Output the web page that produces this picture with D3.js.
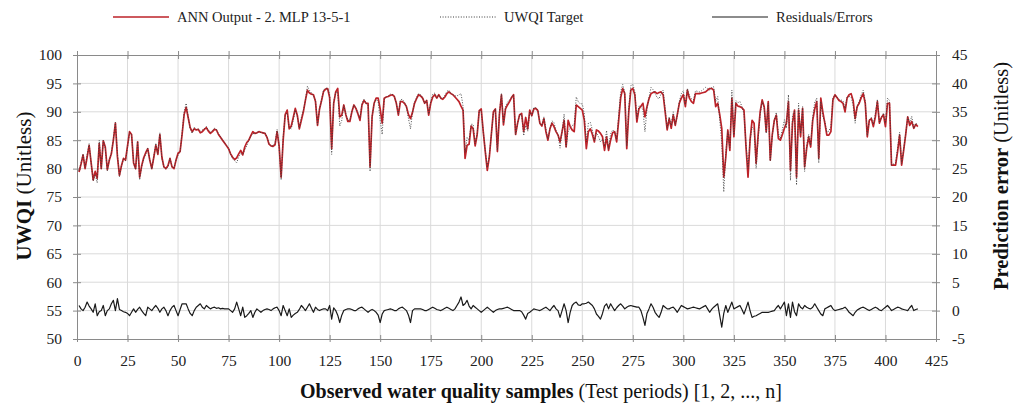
<!DOCTYPE html>
<html>
<head>
<meta charset="utf-8">
<script src="https://cdn.jsdelivr.net/npm/d3@7"></script>
<style>
    body { margin: 0; background: #fff; }
    svg { display: block; font-family: "Liberation Serif", serif; }
    .grid line { stroke: #dadada; stroke-width: 1; }
    .axis path, .axis line { stroke: #8a8a8a; stroke-width: 1; }
    .axis text { fill: #222; font-size: 15.5px; font-family: "Liberation Serif", serif; }
</style>
</head>
<body>
<div id="chart"></div>
<script>
// ANN output (red), UWQI target (dotted), residuals (right axis), sample 1..416
const annOutput = [
    79.4,80.8,82.4,80.0,82.0,84.1,81.0,78.0,79.5,78.3,
    84.4,80.0,84.9,83.8,79.8,81.5,82.6,85.0,88.0,82.1,
    78.8,80.5,81.8,81.5,84.0,86.5,86.0,81.0,80.0,84.7,
    78.5,80.5,81.9,82.8,83.5,81.5,80.0,82.0,84.1,82.5,
    86.0,82.0,80.3,80.0,80.5,81.8,80.3,80.0,81.5,82.7,
    83.0,86.0,89.5,90.8,89.0,87.2,86.5,87.0,86.8,86.9,
    86.3,86.5,86.9,87.2,86.6,86.2,86.5,86.9,86.8,86.0,
    85.5,85.0,84.5,84.0,83.5,82.6,82.0,81.6,81.9,82.6,
    83.2,82.4,83.8,84.6,85.0,85.8,86.5,86.2,86.3,86.5,
    86.4,86.3,86.2,85.5,84.3,84.0,83.9,84.2,86.5,84.0,
    78.5,85.0,89.5,90.3,87.0,87.5,89.0,90.6,89.4,87.0,
    88.5,90.0,92.0,93.8,93.3,93.1,93.0,91.8,87.6,90.5,
    92.0,93.6,94.0,94.1,92.5,83.5,91.5,93.5,94.1,89.1,
    89.4,91.2,89.5,88.3,88.3,90.0,91.2,90.6,89.6,88.5,
    91.2,92.0,91.5,91.5,80.3,89.1,91.5,92.4,92.4,90.5,
    88.0,92.4,92.6,92.7,92.9,93.0,92.7,91.5,89.4,91.8,
    91.8,91.5,90.9,89.5,88.8,89.9,91.5,92.3,93.0,92.8,
    92.4,91.5,92.0,89.4,91.5,92.6,93.0,92.4,93.0,92.4,
    92.2,92.6,93.2,93.5,93.2,93.0,92.6,92.2,91.8,91.0,
    90.3,81.8,84.1,84.3,87.5,87.0,84.0,86.0,90.2,90.5,
    86.5,83.0,79.7,82.0,86.0,90.0,90.5,83.0,89.5,93.0,
    87.7,90.5,91.2,91.8,92.5,93.0,86.0,88.0,89.5,89.7,
    86.5,89.0,87.0,90.3,89.3,90.5,90.6,90.2,88.0,87.5,
    88.8,86.5,85.0,87.0,88.0,87.4,86.5,85.9,84.7,86.5,
    88.5,83.8,88.5,87.4,86.8,86.5,91.2,90.9,90.6,90.3,
    88.5,83.5,86.5,87.0,86.0,84.7,86.8,86.6,86.2,85.6,
    83.2,85.6,83.2,85.0,86.3,86.5,84.7,88.5,92.5,94.1,
    93.2,83.5,90.0,93.8,94.1,93.0,88.2,90.5,91.0,91.5,
    89.1,90.9,92.3,93.2,93.4,93.5,93.2,93.4,93.5,93.0,
    90.0,86.8,88.8,87.1,89.4,87.6,89.5,91.5,92.4,93.0,
    90.9,93.8,92.4,91.8,91.5,93.2,93.2,93.2,93.3,93.4,
    93.5,93.8,94.1,94.1,93.8,90.9,91.5,89.5,87.1,78.5,
    82.0,86.8,83.2,92.4,85.6,91.5,91.0,90.9,90.7,90.3,
    83.8,78.5,85.0,88.5,88.0,80.9,85.9,90.0,92.1,90.9,
    86.5,91.8,81.5,86.0,88.5,89.4,85.3,85.0,86.0,87.1,
    88.0,91.8,79.7,88.0,90.3,78.5,90.3,85.6,90.6,80.3,
    83.5,85.6,83.8,88.5,90.5,91.8,81.8,92.4,90.0,88.0,
    85.9,85.9,86.5,92.1,93.0,92.5,92.0,91.8,91.5,90.0,
    92.4,93.0,93.2,92.0,88.8,90.9,91.5,92.5,93.2,91.5,
    85.6,88.5,88.8,87.4,89.1,91.8,88.0,89.0,89.5,87.4,
    91.5,91.5,80.6,80.6,80.6,83.0,85.9,80.6,83.2,86.0,
    89.1,87.6,88.3,87.1,87.8,87.4
];

const uwqiTarget = [
    79.6,81.0,82.6,80.2,82.4,84.4,81.0,77.8,79.0,77.5,
    85.0,80.0,85.0,83.5,79.6,81.6,82.8,85.3,88.2,82.6,
    78.6,80.5,81.7,81.4,83.8,86.3,86.0,81.0,79.8,84.8,
    78.0,80.4,81.7,82.5,83.6,81.6,79.9,82.1,84.5,82.6,
    86.3,81.8,80.2,79.9,80.3,81.8,80.4,80.1,81.5,82.4,
    83.0,86.3,90.0,91.5,89.2,87.0,86.2,87.3,86.9,87.0,
    86.6,86.8,87.0,87.4,86.8,86.4,86.7,87.1,86.9,86.1,
    85.6,85.1,84.6,84.1,83.6,82.5,81.7,81.4,81.0,82.1,
    82.6,82.5,83.3,84.0,85.0,85.7,86.2,86.1,86.4,86.5,
    86.3,86.3,86.3,85.6,84.4,84.0,84.0,84.5,86.9,83.8,
    78.0,85.5,89.5,89.8,87.2,87.0,88.6,90.3,89.2,87.1,
    89.0,90.3,92.0,94.5,93.8,93.3,92.8,92.0,87.7,90.5,
    92.1,93.8,94.2,94.1,93.0,82.5,91.8,93.4,93.5,87.5,
    88.5,91.1,89.6,88.5,88.5,90.1,91.2,90.6,89.8,88.8,
    91.5,92.2,91.5,91.3,79.5,89.2,91.5,92.2,91.8,88.5,
    86.0,92.3,92.6,92.8,93.1,93.1,92.7,91.5,89.6,92.1,
    92.2,91.7,90.9,88.8,87.0,89.9,91.7,92.5,93.2,93.0,
    92.5,91.5,92.0,89.6,91.8,93.1,93.3,92.5,93.0,92.4,
    92.4,92.9,93.6,93.8,93.3,93.0,92.8,92.8,93.0,93.2,
    91.0,82.8,85.5,85.0,87.8,87.8,84.4,86.2,90.2,90.2,
    86.5,83.2,80.2,82.2,86.0,89.8,90.5,83.2,89.8,93.2,
    88.0,90.9,91.7,92.1,92.6,93.0,86.0,88.0,89.5,89.5,
    85.8,87.6,86.6,90.0,89.3,90.8,90.7,90.3,88.0,87.6,
    89.1,87.0,85.2,87.0,88.4,88.1,86.7,85.9,83.6,86.5,
    89.6,83.8,86.5,87.2,87.6,87.7,92.6,91.8,91.4,91.4,
    89.6,84.7,88.0,88.1,86.8,84.9,86.3,85.6,84.7,85.2,
    83.9,86.7,83.4,86.1,86.8,86.5,85.1,89.3,93.6,94.8,
    93.4,84.0,90.8,94.6,94.8,93.6,88.8,91.0,91.0,90.3,
    86.5,90.5,92.5,94.3,93.9,93.2,92.5,92.3,93.2,93.8,
    90.5,87.1,89.1,87.6,90.0,87.8,89.2,91.8,93.2,93.7,
    91.3,94.1,92.8,92.3,92.1,93.7,93.6,93.5,93.7,94.0,
    94.3,94.1,93.8,94.3,94.4,91.8,92.7,88.6,84.5,75.9,
    82.8,86.5,83.7,93.8,85.9,92.0,91.6,91.8,90.9,89.7,
    84.2,80.0,85.0,87.3,87.0,80.0,85.2,89.5,91.8,90.6,
    86.2,91.5,81.3,85.9,88.5,89.9,86.2,85.3,86.9,88.6,
    87.1,93.0,77.9,89.5,90.1,77.1,91.5,86.2,90.9,79.5,
    84.1,86.0,84.1,89.1,91.7,92.4,81.0,91.8,89.1,88.3,
    86.4,86.6,87.4,92.4,93.0,92.6,92.2,92.1,91.9,90.6,
    92.6,92.7,92.6,91.1,88.0,91.0,91.8,93.0,93.8,91.9,
    85.8,88.5,89.0,87.8,89.7,92.2,88.1,89.0,89.8,88.0,
    92.4,92.0,80.6,80.8,81.0,83.6,86.4,80.9,83.4,86.1,
    89.1,88.1,89.2,87.1,88.0,87.7
];

const residuals = [
    0.9,0.3,0.0,0.6,1.5,0.8,0.3,-0.3,1.2,-0.9,
    -0.2,0.0,0.9,-0.9,0.0,0.3,1.2,1.8,0.0,2.1,
    0.2,0.0,-0.2,-0.3,-0.5,-0.9,-0.3,0.3,-0.3,0.2,
    0.6,0.0,-0.5,-0.9,0.6,0.3,0.0,0.5,0.9,0.4,
    -0.3,0.3,0.6,0.0,-0.9,0.0,0.6,0.9,0.0,-0.9,
    0.2,1.2,1.2,1.2,0.3,-0.5,-0.9,0.0,0.6,0.9,
    1.2,0.6,0.3,0.9,0.6,0.3,0.5,0.6,0.4,0.5,
    0.3,0.4,0.3,0.3,0.3,0.0,-0.3,0.3,1.5,0.3,
    -0.9,0.6,-1.2,-0.9,-0.5,0.0,-1.2,-0.3,0.3,0.0,
    -0.3,0.0,0.2,0.3,0.2,0.0,0.3,0.5,0.6,0.0,
    -0.9,0.9,0.0,-0.9,0.3,-1.2,-0.8,-0.5,-0.3,0.2,
    0.9,0.5,0.0,0.6,1.2,0.4,-0.3,0.6,0.2,0.0,
    0.2,0.3,0.3,0.0,0.9,-1.5,0.5,0.0,-0.8,-2.1,
    -0.8,0.0,0.2,0.3,0.3,0.2,0.0,0.0,0.3,0.5,
    0.6,0.3,0.0,-0.3,0.0,0.2,0.0,-0.3,-0.8,-2.1,
    -0.6,0.0,0.1,0.2,0.3,0.2,0.0,0.0,0.3,0.5,
    0.6,0.3,0.0,-0.8,-2.1,0.0,0.3,0.3,0.3,0.3,
    0.2,0.0,0.0,0.2,0.4,0.6,0.4,0.2,0.1,0.0,
    0.2,0.4,0.6,0.4,0.2,0.0,0.3,0.9,1.5,2.4,
    0.9,1.2,1.8,0.8,0.3,0.9,0.6,0.3,0.0,-0.3,
    0.0,0.3,0.6,0.3,0.0,-0.3,0.0,0.2,0.3,0.3,
    0.4,0.5,0.6,0.4,0.2,0.0,0.0,0.0,0.0,-0.2,
    -0.8,-1.5,-0.5,-0.3,0.0,0.3,0.2,0.1,0.0,0.2,
    0.4,0.6,0.3,0.0,0.5,0.9,0.3,0.0,-1.2,0.0,
    1.2,0.0,-2.1,-0.3,0.9,1.3,1.5,1.0,0.9,1.2,
    1.2,1.3,1.5,1.2,0.9,0.3,-0.6,-1.0,-1.5,-0.5,
    0.8,1.2,0.3,1.2,0.6,0.0,0.5,0.9,1.2,0.8,
    0.3,0.6,0.8,0.9,0.8,0.7,0.6,0.6,0.0,-1.2,
    -2.6,-0.5,0.3,1.2,0.6,-0.3,-0.8,-1.2,-0.3,0.9,
    0.6,0.3,0.3,0.5,0.6,0.2,-0.3,0.3,0.9,0.7,
    0.5,0.3,0.4,0.5,0.6,0.5,0.4,0.3,0.5,0.7,
    0.9,0.3,-0.3,0.2,0.6,0.9,1.2,-0.9,-2.9,-0.5,
    0.9,-0.3,0.6,1.5,0.3,0.5,0.7,0.9,0.2,-0.6,
    0.4,1.5,0.0,-1.2,-1.0,-0.9,-0.7,-0.5,-0.3,-0.3,
    -0.3,-0.3,-0.2,-0.1,0.0,0.5,0.9,0.3,0.9,1.5,
    -0.9,1.2,-1.2,1.5,-0.2,-0.9,1.2,0.6,0.3,0.9,
    0.6,0.4,0.3,0.6,1.2,0.6,0.0,-0.6,-0.9,0.3,
    0.5,0.7,0.9,0.3,0.0,0.1,0.2,0.3,0.4,0.6,
    0.2,-0.3,-0.6,-0.9,-0.3,0.1,0.3,0.5,0.6,0.4,
    0.2,0.0,0.2,0.4,0.6,0.4,0.1,0.0,0.3,0.6,
    0.9,0.5,0.0,0.2,0.4,0.6,0.5,0.3,0.2,0.1,
    0.0,0.5,0.9,0.0,0.2,0.3
];

const samples = d3.range(1, annOutput.length + 1);

const xTicks = d3.range(0, 426, 25),
    leftTicks = d3.range(50, 101, 5),
    rightTicks = d3.range(-5, 46, 5);

const margin = { top: 55, right: 83, bottom: 69, left: 77 };
const W = 1019, H = 408;
const width = W - margin.left - margin.right,
    height = H - margin.top - margin.bottom;

const svg = d3.select("#chart").append("svg")
    .attr("width", W)
    .attr("height", H);

const g = svg.append("g")
    .attr("transform", "translate(" + margin.left + "," + margin.top + ")");

const x = d3.scaleLinear().domain([0, 425]).range([0, width]);
const yL = d3.scaleLinear().domain([50, 100]).range([height, 0]);
const yR = d3.scaleLinear().domain([-5, 45]).range([height, 0]);

// gridlines
g.append("g").attr("class", "grid")
    .selectAll("line").data(leftTicks.slice(1, -1)).join("line")
    .attr("x1", 0).attr("x2", width)
    .attr("y1", d => yL(d)).attr("y2", d => yL(d));
g.append("g").attr("class", "grid")
    .selectAll("line").data(xTicks.slice(1, -1)).join("line")
    .attr("y1", 0).attr("y2", height)
    .attr("x1", d => x(d)).attr("x2", d => x(d));

// axes
const plain = d => String(d); // keep ascii hyphen for negatives

const xAxis = g.append("g").attr("class", "axis")
    .attr("transform", "translate(0," + height + ")")
    .call(d3.axisBottom(x).tickValues(xTicks).tickSize(4).tickSizeOuter(0).tickPadding(12).tickFormat(plain));
xAxis.selectAll(".tick line").attr("y1", -4).attr("y2", 3);

const topAxis = g.append("g").attr("class", "axis")
    .call(d3.axisTop(x).tickValues(xTicks).tickSize(4).tickSizeOuter(0).tickFormat(""));
topAxis.selectAll(".tick line").attr("y1", 4).attr("y2", -4);

const leftAxis = g.append("g").attr("class", "axis")
    .call(d3.axisLeft(yL).tickValues(leftTicks).tickSize(4).tickSizeOuter(0).tickPadding(11).tickFormat(plain));
leftAxis.selectAll(".tick line").attr("x1", 4).attr("x2", -4);

const rightAxis = g.append("g").attr("class", "axis")
    .attr("transform", "translate(" + width + ",0)")
    .call(d3.axisRight(yR).tickValues(rightTicks).tickSize(4).tickSizeOuter(0).tickPadding(12).tickFormat(plain));
rightAxis.selectAll(".tick line").attr("x1", -4).attr("x2", 4);

// series
const lineL = d3.line().x((d, i) => x(samples[i])).y(d => yL(d));
const lineR = d3.line().x((d, i) => x(samples[i])).y(d => yR(d));

g.append("path").datum(annOutput)
    .attr("fill", "none")
    .attr("stroke", "#bd2229")
    .attr("stroke-width", 1.7)
    .attr("stroke-linejoin", "round")
    .attr("d", lineL);

g.append("path").datum(uwqiTarget)
    .attr("fill", "none")
    .attr("stroke", "#3a3a3a")
    .attr("stroke-width", 0.9)
    .attr("stroke-dasharray", "1,1.6")
    .attr("d", lineL);

g.append("path").datum(residuals)
    .attr("fill", "none")
    .attr("stroke", "#1a1a1a")
    .attr("stroke-width", 1.2)
    .attr("stroke-linejoin", "round")
    .attr("d", lineR);

// legend
const legend = [
    { label: "ANN Output - 2. MLP 13-5-1", x: 113, color: "#bd2229", w: 1.6, dash: null },
    { label: "UWQI Target", x: 440, color: "#3a3a3a", w: 1, dash: "1,1.6" },
    { label: "Residuals/Errors", x: 712, color: "#1a1a1a", w: 1.2, dash: null }
];
const lg = svg.append("g").selectAll("g").data(legend).join("g")
    .attr("transform", d => "translate(" + d.x + ",17)");
lg.append("line")
    .attr("x1", 0).attr("x2", 56)
    .attr("stroke", d => d.color)
    .attr("stroke-width", d => d.w)
    .attr("stroke-dasharray", d => d.dash);
lg.append("text")
    .attr("x", 64).attr("y", 5)
    .style("font-size", "14.5px")
    .style("fill", "#222")
    .text(d => d.label);

// axis titles
const leftTitle = svg.append("text")
    .attr("transform", "translate(31,186) rotate(-90)")
    .attr("text-anchor", "middle")
    .style("font-size", "21px").style("fill", "#111");
leftTitle.append("tspan").style("font-weight", "bold").text("UWQI");
leftTitle.append("tspan").text(" (Unitless)");

const rightTitle = svg.append("text")
    .attr("transform", "translate(1008,176) rotate(-90)")
    .attr("text-anchor", "middle")
    .style("font-size", "20.5px").style("fill", "#111");
rightTitle.append("tspan").style("font-weight", "bold").text("Prediction error");
rightTitle.append("tspan").text(" (Unitless)");

const bottomTitle = svg.append("text")
    .attr("x", 541).attr("y", 398)
    .attr("text-anchor", "middle")
    .style("font-size", "20px").style("fill", "#111");
bottomTitle.append("tspan").style("font-weight", "bold").text("Observed water quality samples");
bottomTitle.append("tspan").text(" (Test periods) [1, 2, ..., n]");
</script>
</body>
</html>
